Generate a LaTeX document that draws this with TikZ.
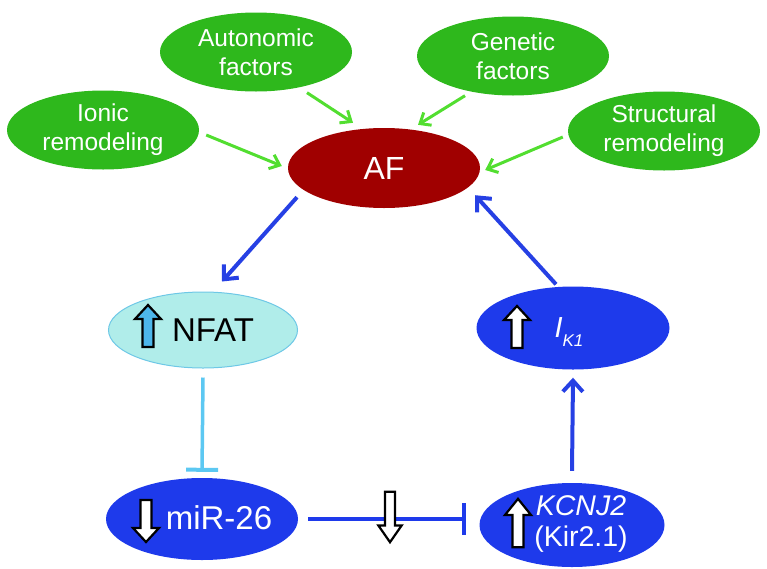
\documentclass[tikz,border=0pt]{standalone}
\usepackage{fontspec}
\setmainfont{Liberation Sans}
\usetikzlibrary{shapes.geometric,arrows.meta,positioning}
\definecolor{factgreen}{RGB}{46,184,28}
\definecolor{lightgreen}{RGB}{82,222,48}
\definecolor{afred}{RGB}{160,0,0}
\definecolor{deepblue}{RGB}{30,58,235}
\definecolor{arrblue}{RGB}{38,64,228}
\definecolor{nfatfill}{RGB}{176,237,234}
\definecolor{nfatline}{RGB}{110,200,230}
\definecolor{inhblue}{RGB}{92,200,242}
\definecolor{uparrfill}{RGB}{77,182,234}
\tikzset{
  oval/.style={ellipse,inner sep=0pt,minimum width=192pt,minimum height=79pt,align=center},
  factor/.style={oval,fill=factgreen,text=white,font=\fontsize{24.5}{29}\selectfont},
  target/.style={oval,fill=deepblue,text=white},
  garr/.style={lightgreen,line width=3pt,-{Straight Barb[length=9pt,width=15pt]}},
  barr/.style={arrblue,line width=4pt,-{Straight Barb[length=11pt,width=20pt]}},
  inhib/.style={line width=3.5pt,-{Bar[width=32pt,line width=4pt]}},
  pics/hollow up/.style={code={\draw[fill=#1,line width=2.2pt,line join=miter] (0,-21) -- (13,-7) -- (5.5,-7) -- (5.5,21) -- (-5.5,21) -- (-5.5,-7) -- (-13,-7) -- cycle;}},
  pics/hollow up/.default=white
}
\begin{document}
\begin{tikzpicture}[x=1pt,y=-1pt]
\useasboundingbox (0,0) rectangle (767,568);
 \node[factor] (ionic) at (103,130) {Ionic\\remodeling};
 \node[factor] (autonomic) at (256,52) {Autonomic\\factors};
 \node[factor] (genetic) at (513,56) {Genetic\\factors};
 \node[factor] (structural) at (664,131) {Structural\\remodeling};
 \node[oval,fill=afred,text=white,minimum height=80pt,font=\fontsize{32}{38}\selectfont] (af) at (384,168) {AF};
 \node[oval,fill=nfatfill,draw=nfatline,line width=1pt,minimum width=189pt,minimum height=76pt] (nfat) at (203,330) {};
 \node[font=\fontsize{33}{38}\selectfont] (nfat-t) at (213,330) {NFAT};
 \node[target,minimum width=193pt,minimum height=83pt] (ik1) at (573,328) {};
 \node[text=white,font=\fontsize{29}{34}\selectfont\itshape] (ik1-t) at (569,332) {I\raisebox{-9pt}{\fontsize{17}{17}\selectfont K1}};
 \node[target,minimum height=82pt] (mir) at (202,519) {};
 \node[text=white,font=\fontsize{33}{38}\selectfont] (mir-t) at (219,518) {miR-26};
 \node[target,minimum width=185pt,minimum height=84pt] (kcnj) at (572,525) {};
 \node[text=white,align=center,font=\fontsize{28.5}{31}\selectfont] (kcnj-t) at (581,524) {\textit{KCNJ2}\\(Kir2.1)};
 \draw[garr] ([shift={(7,5)}]ionic.east) -- ([shift={(-6,-2)}]af.west);
 \draw[garr] ([shift={(51,1)}]autonomic.south) -- ([shift={(-31,-5)}]af.north);
 \draw[garr] ([shift={(-48,0)}]genetic.south) -- ([shift={(34,-3)}]af.north);
 \draw[garr] ([shift={(-5,6)}]structural.west) -- ([shift={(5,2)}]af.east);
 \draw[barr] ([shift={(-87,-11)}]af.south) -- ([shift={(19,-10)}]nfat.north);
 \draw[barr] ([shift={(-17,-2)}]ik1.north) -- ([shift={(91,-13)}]af.south);
 \draw[barr] ([shift={(0,-12)}]kcnj.north) -- ([shift={(0,8)}]ik1.south);
 \draw[inhib,inhblue] ([shift={(0,9)}]nfat.south) -- ([shift={(0,-6)}]mir.north);
 \draw[inhib,deepblue] ([xshift=10pt]mir.east) -- ([xshift=-13pt]mir.east -| kcnj.west);
 \pic at (148,326) {hollow up=uparrfill};
 \pic at (517,327) {hollow up};
 \pic[yscale=-1] at (146,521) {hollow up};
 \pic[yscale=-1.2,xscale=0.9] at (390,517) {hollow up};
 \pic[yscale=1.15] at (518,523) {hollow up};
\end{tikzpicture}
\end{document}
